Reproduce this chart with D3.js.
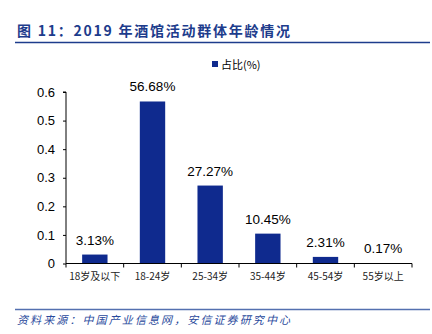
<!DOCTYPE html>
<html><head><meta charset="utf-8">
<script src="https://cdn.jsdelivr.net/npm/d3@7"></script>
<style>body{margin:0;background:#fff;}svg{display:block;}</style>
</head><body>
<svg id="c" width="432" height="334"></svg>
<script>
const categories = ["18岁及以下","18-24岁","25-34岁","35-44岁","45-54岁","55岁以上"];
const values = [0.0313,0.5668,0.2727,0.1045,0.0231,0.0017];
const valueLabels = ["3.13%","56.68%","27.27%","10.45%","2.31%","0.17%"];
const yTicks = [0,0.1,0.2,0.3,0.4,0.5,0.6];
const seriesName = "占比(%)";
const title = "图 11：2019 年酒馆活动群体年龄情况";
const source = "资料来源：中国产业信息网，安信证券研究中心";

const svg = d3.select("#c");
const barColor = "#0f2a8e";
const L=66, R=412, T=92, B=263.5;
const x = d3.scaleBand().domain(categories).range([L,R]).paddingInner(0.56).paddingOuter(0.28);
const y = d3.scaleLinear().domain([0,0.6]).range([B,T]);

// title
svg.append("text").attr("x",17).attr("y",36).attr("font-family","'Noto Sans CJK SC',sans-serif")
  .attr("font-size",14).attr("font-weight","bold").attr("fill","#1d3c8c")
  .attr("textLength",273).attr("lengthAdjust","spacing").text(title);
svg.append("line").attr("x1",15).attr("x2",430).attr("y1",42.5).attr("y2",42.5).attr("stroke","#1d3c8c").attr("stroke-width",1.3);

// bars
svg.selectAll("rect.bar").data(values).enter().append("rect").attr("class","bar")
  .attr("x",(d,i)=>x(categories[i])).attr("width",x.bandwidth())
  .attr("y",d=>y(d)).attr("height",d=>B-y(d)).attr("fill",barColor);

svg.selectAll("text.vl").data(values).enter().append("text").attr("class","vl")
  .attr("x",(d,i)=>x(categories[i])+x.bandwidth()/2).attr("y",d=>y(d)-10)
  .attr("text-anchor","middle").attr("font-family","'Liberation Sans',Arial,sans-serif")
  .attr("font-size",13.5).attr("fill","#000").text((d,i)=>valueLabels[i]);

// y axis
const ya = svg.append("g").attr("transform",`translate(${L},0)`)
  .call(d3.axisLeft(y).tickValues(yTicks).tickSize(3).tickPadding(8).tickFormat(d=>d===0?"0":d3.format(".1f")(d)));
ya.select(".domain").attr("stroke","#000").attr("d",`M-3,${T}H0V${B}`);
ya.selectAll(".tick line").attr("stroke","#000");
ya.selectAll(".tick text").attr("font-family","'Liberation Sans',Arial,sans-serif").attr("font-size",13).attr("fill","#000");

// x axis
const xa = svg.append("g").attr("transform",`translate(0,${B})`);
xa.append("line").attr("x1",L).attr("x2",R).attr("y1",0).attr("y2",0).attr("stroke","#000");
const bounds = d3.range(categories.length+1).map(i=>L+ i*(R-L)/categories.length);
xa.selectAll("line.t").data(bounds).enter().append("line").attr("class","t")
  .attr("x1",d=>d).attr("x2",d=>d).attr("y1",0).attr("y2",4).attr("stroke","#000");
xa.selectAll("text").data(categories).enter().append("text")
  .attr("x",d=>x(d)+x.bandwidth()/2).attr("y",16).attr("text-anchor","middle")
  .attr("font-family","'Noto Sans CJK SC',sans-serif").attr("font-size",10).attr("fill","#222").text(d=>d);

// legend
svg.append("rect").attr("x",212).attr("y",61).attr("width",6).attr("height",6).attr("fill",barColor);
svg.append("text").attr("x",221).attr("y",68.5).attr("font-family","'Noto Sans CJK SC',sans-serif")
  .attr("font-size",11).attr("fill","#000").text(seriesName);

// footer
svg.append("line").attr("x1",15).attr("x2",430).attr("y1",309.5).attr("y2",309.5).attr("stroke","#5470b0").attr("stroke-width",1.5);
svg.append("text").attr("x",17).attr("y",324).attr("font-family","'Noto Sans CJK SC',sans-serif")
  .attr("font-size",11).attr("font-style","italic").attr("fill","#2a4a9c")
  .attr("textLength",273).attr("lengthAdjust","spacing").text(source);
</script>
</body></html>
